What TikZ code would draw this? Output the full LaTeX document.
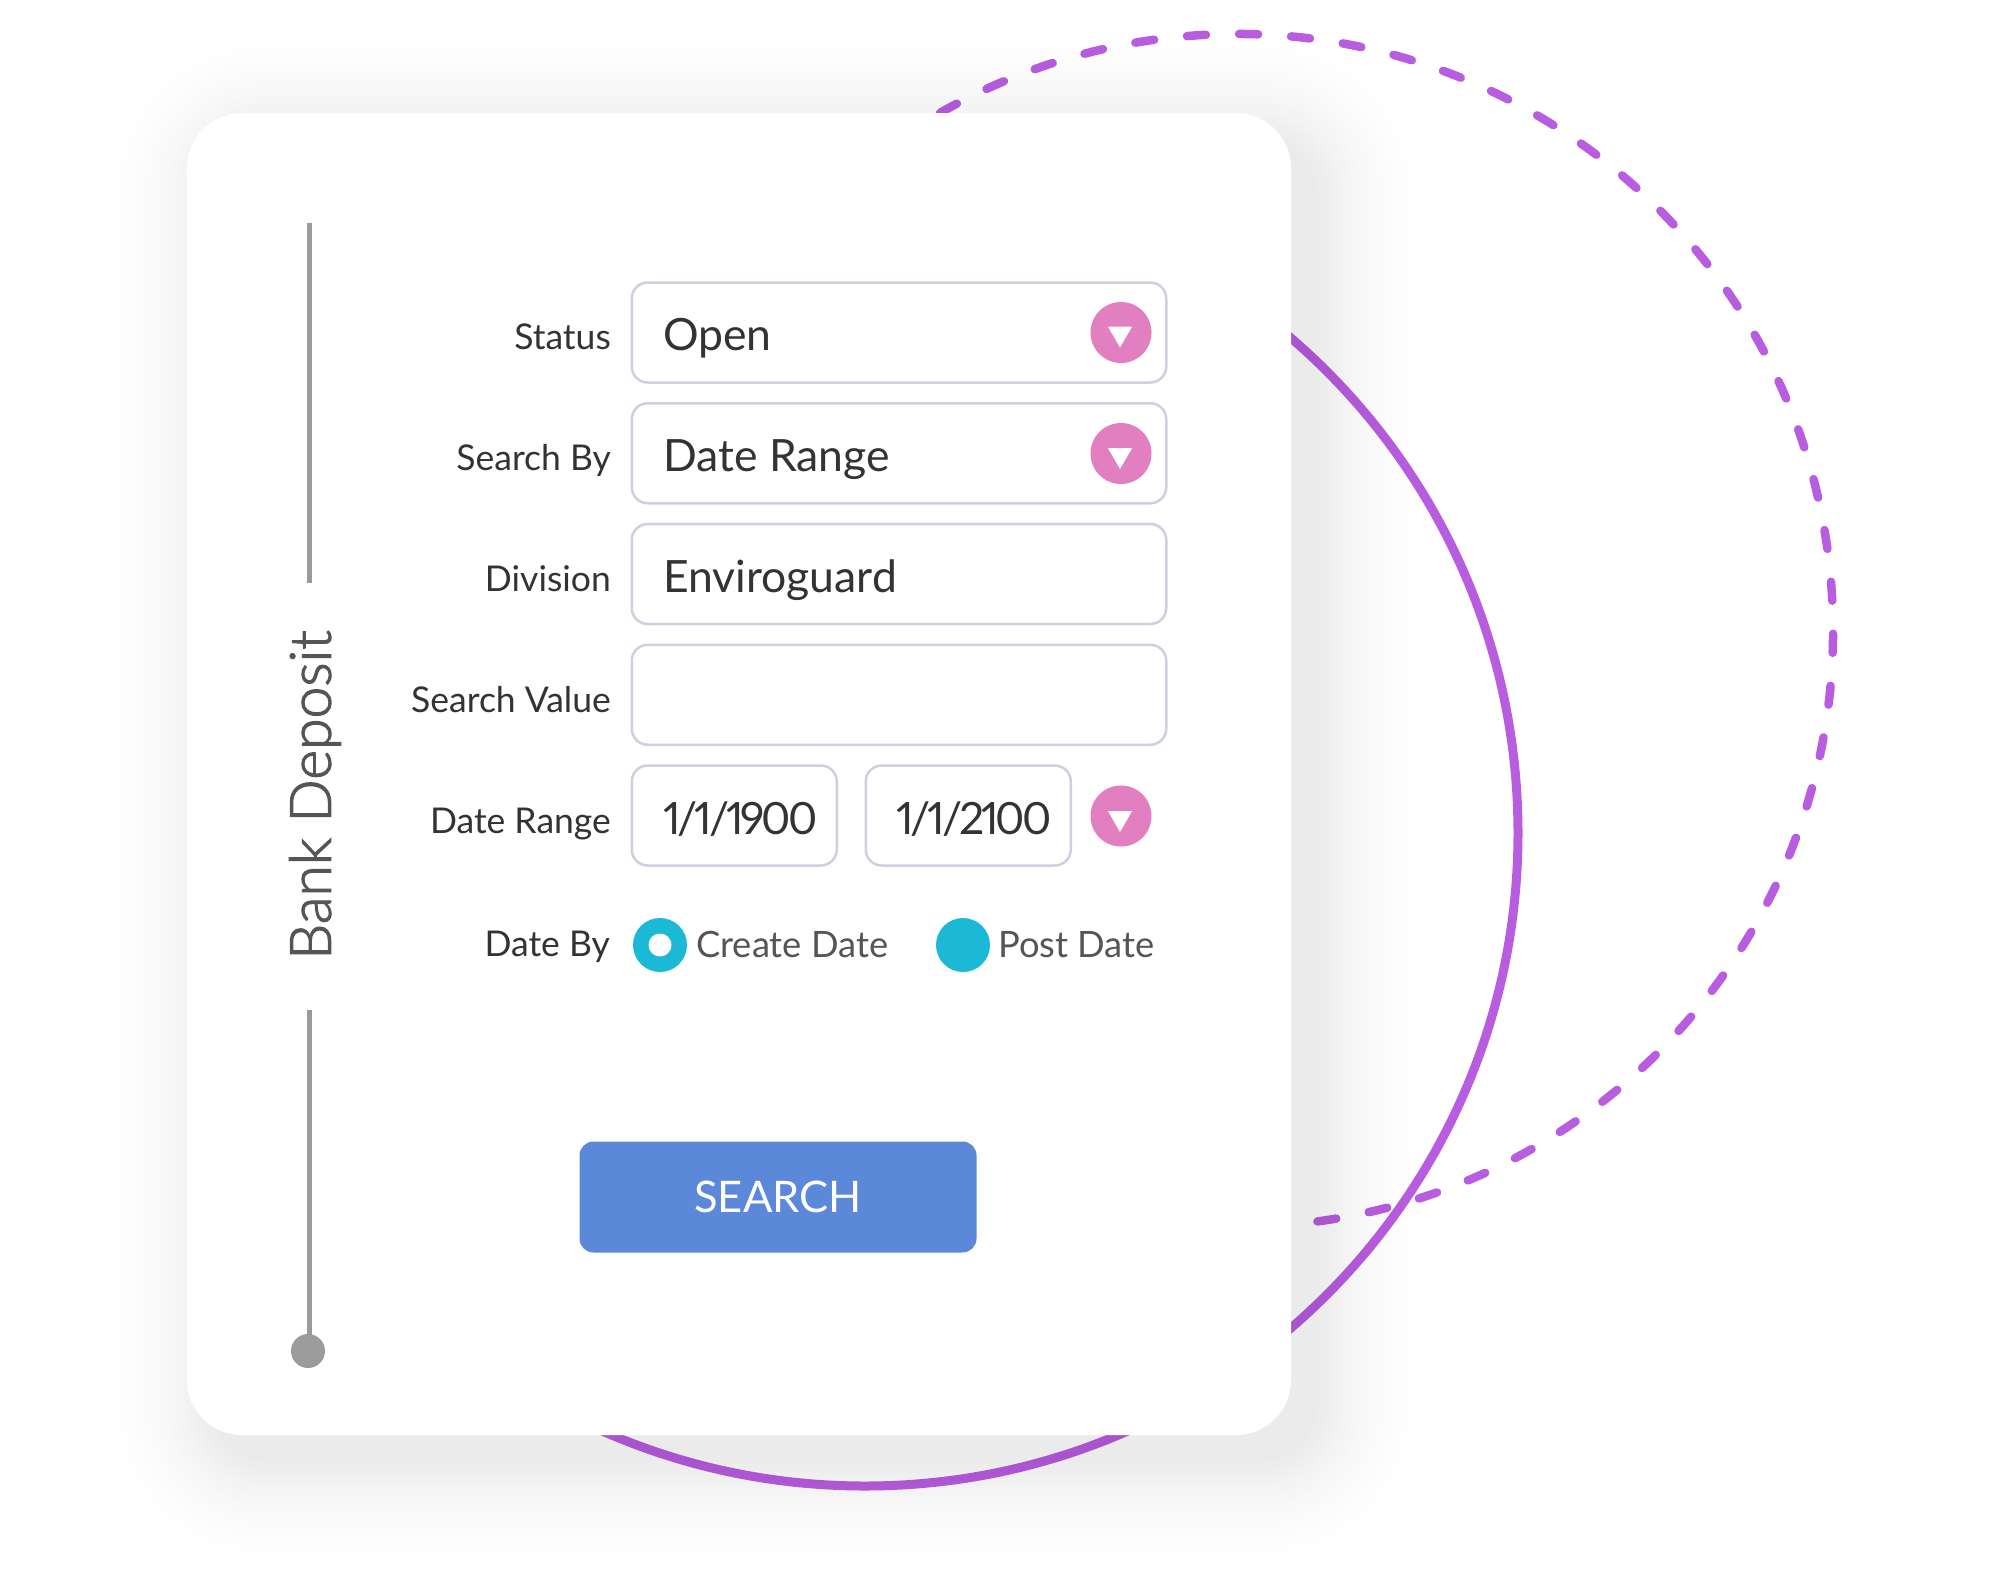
\documentclass[tikz,border=0pt]{standalone}
\usepackage{fontspec}
\setmainfont{Lato}[Numbers=Proportional]
\newfontfamily\lightfont[FakeBold=2]{Lato Light}
\usetikzlibrary{positioning,shapes.geometric}
\definecolor{ringcol}{HTML}{B85CE0}
\definecolor{fieldcol}{HTML}{CFCFE0}
\definecolor{pinkcol}{HTML}{E17FC0}
\definecolor{tealcol}{HTML}{1CB9D6}
\definecolor{btncol}{HTML}{5B88D9}
\definecolor{rulecol}{HTML}{9B9B9B}
\definecolor{inkcol}{HTML}{333333}
\definecolor{softcol}{HTML}{555555}
\tikzset{
 field/.style={draw=fieldcol, line width=2.5pt, fill=white, rounded corners=16pt, minimum width=534.5pt, minimum height=100pt, inner sep=0pt, outer sep=0pt},
 datefield/.style={field, minimum width=205pt},
 fieldtext/.style={inner sep=0pt, text=inkcol, font=\fontsize{44.5}{50}\selectfont, anchor=base west},
 datetext/.style={fieldtext, font=\fontsize{44.5}{50}\selectfont\addfontfeature{LetterSpace=-7}},
 rowlabel/.style={inner sep=0pt, text=inkcol, font=\fontsize{35.5}{40}\selectfont, anchor=base east},
 ddcircle/.style={circle, fill=pinkcol, minimum size=61pt, inner sep=0pt, outer sep=0pt},
 ddtip/.style={regular polygon, regular polygon sides=3, shape border rotate=180, fill=white, minimum size=28pt, inner sep=0pt},
 radio/.style={circle, fill=tealcol, minimum size=54pt, inner sep=0pt, outer sep=0pt},
 radiolabel/.style={inner sep=0pt, text=softcol, font=\fontsize{36.3}{40}\selectfont, anchor=base west},
 sideline/.style={rulecol, line width=5pt}
}

\begin{document}
\begin{tikzpicture}[x=1pt,y=-1pt]
 \useasboundingbox (0,0) rectangle (2000,1579);
 % soft shadow under the card
 \foreach \s in {0,...,40} {
  \pgfmathsetmacro{\shade}{\s*\s*0.005}
  \pgfmathsetmacro{\grow}{3*(40-\s)}
  \fill[black!\shade, rounded corners=55pt+\grow pt] (212-\grow,138-\grow) rectangle (1316+\grow,1460+\grow);
 }

 \begin{scope}[blend mode=multiply]
  \node (ring) [circle, draw=ringcol, line width=9pt, minimum size=1306pt] at (865,833) {};
  \coordinate (dashmid) at (1236.5,630.5);
  \draw[ringcol, line width=8.5pt, line cap=round, dash pattern=on 19pt off 33.1pt] (dashmid) ++(-82.2:596.5pt) arc[start angle=-82.2, end angle=125, radius=596.5pt];
 \end{scope}

 \node (card) [fill=white, rounded corners=55pt, minimum width=1104pt, minimum height=1322pt, inner sep=0pt] at (739,774) {};

 \node (status) [field] at (899,332.5) {};
 \node (searchby) [field, below=20.75pt of status] {};
 \node (division) [field, below=20.75pt of searchby] {};
 \node (searchval) [field, below=20.75pt of division] {};
 \node (datefrom) [datefield, below=20.75pt of searchval.south west, anchor=north west] {};
 \node (dateto) [datefield, right=29pt of datefrom] {};

 \node (statustxt) [fieldtext] at (663,350) {Open};
 \node (searchbytxt) [fieldtext] at (663,471) {Date Range};
 \node (divisiontxt) [fieldtext] at (663,592) {Enviroguard};
 \node (fromtxt) [datetext] at (663,834) {1/1/1900};
 \node (totxt) [datetext] at (896,834) {1/1/2100};

 \node (statuslab) [rowlabel] at (611,349) {Status};
 \node (searchbylab) [rowlabel] at (611,470) {Search By};
 \node (divisionlab) [rowlabel] at (611,591) {Division};
 \node (searchvallab) [rowlabel] at (611,712) {Search Value};
 \node (rangelab) [rowlabel] at (611,833) {Date Range};
 \node (datebylab) [rowlabel] at (610,956) {Date By};

 \node (statusdd) [ddcircle] at (1121,332.5) {};
 \node (searchbydd) [ddcircle] at (1121,453.5) {};
 \node (datedd) [ddcircle] at (1121,816) {};
 \node (statustip) [ddtip] at (1120,333.5) {};
 \node (searchbytip) [ddtip] at (1120,455) {};
 \node (datetip) [ddtip] at (1120,818) {};

 \node (createdot) [radio] at (660,945) {};
 \node (createhole) [circle, fill=white, minimum size=23pt, inner sep=0pt] at (660,945) {};
 \node (postdot) [radio] at (963,945) {};
 \node (createlab) [radiolabel] at (696,957) {Create Date};
 \node (postlab) [radiolabel] at (998,957) {Post Date};

 \node (searchbtn) [fill=btncol, rounded corners=14pt, minimum width=397pt, minimum height=111pt, inner sep=0pt, text=white, font=\fontsize{43.5}{50}\selectfont] at (778,1197) {SEARCH};

 \node (banktitle) [rotate=90, inner sep=0pt, text=softcol, font=\lightfont\fontsize{57}{60}\selectfont] at (315,795) {Bank Deposit};
 \coordinate (topstart) at (309,223);
 \coordinate (topend) at (309,583);
 \coordinate (lowstart) at (309,1010);
 \node (enddot) [circle, fill=rulecol, minimum size=34pt, inner sep=0pt] at (308,1351) {};
 \draw[sideline] (topstart) -- (topend);
 \draw[sideline] (lowstart) -- (lowstart |- enddot);
\end{tikzpicture}
\end{document}
